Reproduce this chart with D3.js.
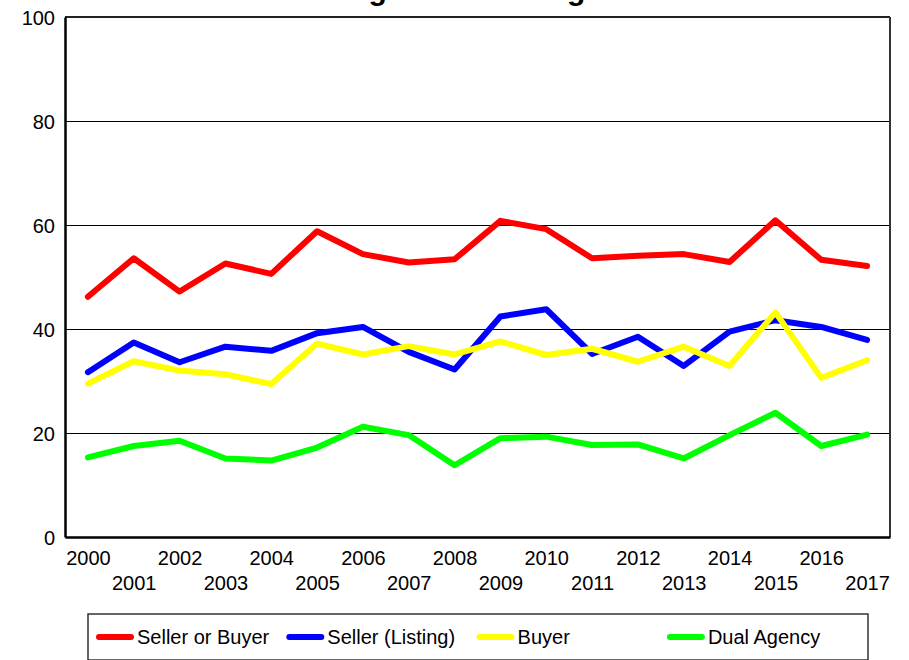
<!DOCTYPE html>
<html>
<head>
<meta charset="utf-8">
<script src="https://cdn.jsdelivr.net/npm/d3@7"></script>
<style>
  html, body { margin: 0; padding: 0; background: #fff; }
  svg { display: block; font-family: "Liberation Sans", Arial, sans-serif; }
</style>
</head>
<body>
<svg id="chart" width="909" height="660"></svg>
<script>
const titleText = "Agent Percentage %";
const years = ["2000","2001","2002","2003","2004","2005","2006","2007","2008","2009","2010","2011","2012","2013","2014","2015","2016","2017"];
const yTicks = [0, 20, 40, 60, 80, 100];
const seriesNames = ["Seller or Buyer", "Seller (Listing)", "Buyer", "Dual Agency"];
const sellerOrBuyer = [46.2, 53.6, 47.2, 52.6, 50.6, 58.8, 54.4, 52.8, 53.4, 60.8, 59.2, 53.6, 54.1, 54.4, 52.9, 60.9, 53.3, 52.1];
const sellerListing = [31.7, 37.4, 33.6, 36.6, 35.8, 39.2, 40.4, 35.6, 32.2, 42.4, 43.8, 35.2, 38.5, 32.9, 39.5, 41.7, 40.4, 37.9];
const buyer         = [29.5, 33.8, 32.0, 31.3, 29.4, 37.2, 35.1, 36.7, 35.1, 37.6, 35.0, 36.2, 33.7, 36.6, 32.9, 43.2, 30.6, 34.0];
const dualAgency    = [15.3, 17.5, 18.5, 15.1, 14.7, 17.2, 21.2, 19.6, 13.8, 19.0, 19.3, 17.7, 17.8, 15.1, 19.6, 23.9, 17.5, 19.7];
const seriesColors = ["#ff0000", "#0000ff", "#ffff00", "#00ff00"];

const seriesData = [sellerOrBuyer, sellerListing, buyer, dualAgency];

const svg = d3.select("#chart");
const plot = { left: 65, right: 890, top: 17, bottom: 537 };

const x = d3.scalePoint().domain(years).range([plot.left, plot.right]).padding(0.5);
const y = d3.scaleLinear().domain([0, 100]).range([plot.bottom, plot.top]);

// Title (clipped at top as in reference)
svg.append("text")
  .attr("x", 492).attr("y", 0)
  .attr("text-anchor", "middle")
  .attr("font-size", 30).attr("font-weight", "bold")
  .attr("fill", "#000")
  .text(titleText);

// gridlines
svg.append("g").selectAll("line")
  .data(yTicks.filter(d => d > 0 && d < 100))
  .join("line")
  .attr("x1", plot.left).attr("x2", plot.right)
  .attr("y1", d => y(d)).attr("y2", d => y(d))
  .attr("stroke", "#000").attr("stroke-width", 1)
  .attr("shape-rendering", "crispEdges");

// frame
svg.append("line").attr("x1", plot.left).attr("x2", plot.right)
  .attr("y1", plot.top).attr("y2", plot.top)
  .attr("stroke", "#222").attr("stroke-width", 2)
  .attr("shape-rendering", "crispEdges");
svg.append("line").attr("x1", plot.right).attr("x2", plot.right)
  .attr("y1", plot.top).attr("y2", plot.bottom)
  .attr("stroke", "#333").attr("stroke-width", 2)
  .attr("shape-rendering", "crispEdges");

// y axis
const yAxis = d3.axisLeft(y).tickValues(yTicks).tickSize(0).tickPadding(10);
const gy = svg.append("g").attr("transform", `translate(${plot.left},0)`).call(yAxis);
gy.select(".domain").attr("stroke", "#000").attr("stroke-width", 2.5);
gy.selectAll("text").attr("font-size", 20).attr("fill", "#000")
  .attr("font-family", "'Liberation Sans', Arial, sans-serif").attr("dy", "0.36em");

// x axis
const xAxis = d3.axisBottom(x).tickSize(0).tickPadding(0);
const gx = svg.append("g").attr("transform", `translate(0,${plot.bottom})`).call(xAxis);
gx.select(".domain").attr("stroke", "#000").attr("stroke-width", 2.5);
gx.selectAll("text")
  .attr("font-size", 20).attr("fill", "#000")
  .attr("font-family", "'Liberation Sans', Arial, sans-serif")
  .attr("dy", null)
  .attr("y", (d, i) => i % 2 === 0 ? 28 : 53);

// lines
const line = d3.line().x((d, i) => x(years[i])).y(d => y(d));
svg.append("g").selectAll("path")
  .data(seriesData)
  .join("path")
  .attr("d", d => line(d))
  .attr("fill", "none")
  .attr("stroke", (d, i) => seriesColors[i])
  .attr("stroke-width", 6)
  .attr("stroke-linejoin", "round")
  .attr("stroke-linecap", "round");

// legend
const legend = svg.append("g");
legend.append("rect").attr("x", 88).attr("y", 614).attr("width", 780).attr("height", 46)
  .attr("fill", "#fff").attr("stroke", "#333").attr("stroke-width", 1.5);
const items = legend.selectAll("g.item").data(seriesNames).join("g")
  .attr("class", "item")
  .attr("transform", (d, i) => `translate(${99 + i * 190.3},637)`);
items.append("line").attr("x1", 0).attr("x2", 32).attr("y1", 0).attr("y2", 0)
  .attr("stroke", (d, i) => seriesColors[i]).attr("stroke-width", 6).attr("stroke-linecap", "round");
items.append("text").attr("x", 38).attr("y", 7)
  .attr("font-size", 20).attr("fill", "#000").text(d => d);
</script>
</body>
</html>
